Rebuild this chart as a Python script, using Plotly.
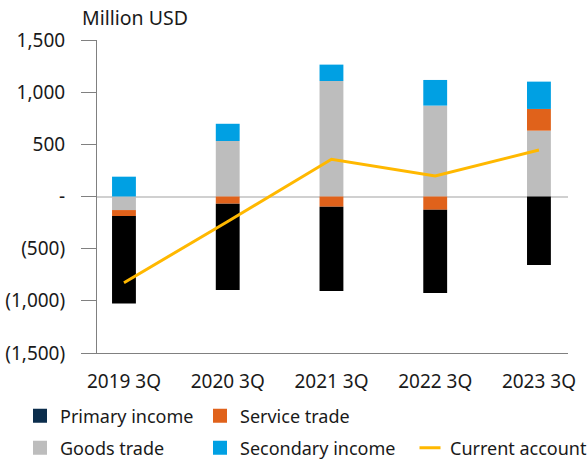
import plotly.graph_objects as go

# Current account components by quarter (million USD)
quarters = ["2019 3Q", "2020 3Q", "2021 3Q", "2022 3Q", "2023 3Q"]
goods_trade = [-130, 532, 1107, 871, 631]
service_trade = [-58, -69, -98, -127, 208]
primary_income = [-837, -827, -808, -798, -657]
secondary_income = [190, 165, 157, 246, 262]
current_account = [-826, -240, 357, 197, 446]

y_ticks = [-1500, -1000, -500, 0, 500, 1000, 1500]
y_tick_text = ["(1,500)", "(1,000)", "(500)", "-", "500", "1,000", "1,500"]

FONT = "Noto Sans"
TXT = "#1a1a1a"
C_GOODS = "#BDBDBD"
C_SERVICE = "#E0621B"
C_PRIMARY = "#000000"
C_PRIMARY_KEY = "#0B2D4C"
C_SECOND = "#00A0E3"
C_CA = "#FFB800"
BAR_W = 0.23

fig = go.Figure()

fig.add_trace(go.Bar(x=quarters, y=goods_trade, name="Goods trade", width=BAR_W,
                     marker=dict(color=C_GOODS, line=dict(width=0)), showlegend=False))
fig.add_trace(go.Bar(x=quarters, y=service_trade, name="Service trade", width=BAR_W,
                     marker=dict(color=C_SERVICE, line=dict(width=0)), showlegend=False))
fig.add_trace(go.Bar(x=quarters, y=primary_income, name="Primary income", width=BAR_W,
                     marker=dict(color=C_PRIMARY, line=dict(width=0)), showlegend=False))
fig.add_trace(go.Bar(x=quarters, y=secondary_income, name="Secondary income", width=BAR_W,
                     marker=dict(color=C_SECOND, line=dict(width=0)), showlegend=False))
fig.add_trace(go.Scatter(x=quarters, y=current_account, name="Current account", mode="lines",
                         line=dict(color=C_CA, width=3), showlegend=False))


# legend keys, one small legend per entry so the two rows line up in columns
def square_key(name, color, legend_id):
    return go.Scatter(x=[None], y=[None], name=name, mode="markers",
                      marker=dict(symbol="square", size=14, color=color, line=dict(width=0)),
                      legend=legend_id)


fig.add_trace(square_key("Primary income", C_PRIMARY_KEY, "legend"))
fig.add_trace(square_key("Service trade", C_SERVICE, "legend2"))
fig.add_trace(square_key("Goods trade", C_GOODS, "legend3"))
fig.add_trace(square_key("Secondary income", C_SECOND, "legend4"))
fig.add_trace(go.Scatter(x=[None], y=[None], name="Current account", mode="markers",
                         marker=dict(symbol="line-ew-open", size=15, color=C_CA,
                                     line=dict(color=C_CA, width=3)),
                         legend="legend5"))

L, R, T, B = 97, 20, 40, 108
W, H = 588, 461
pw, ph = W - L - R, H - T - B


def px_x(x):
    return (x - L) / pw


def px_y(y):
    return 1 - (y - T) / ph


def legend_at(x, y):
    return dict(x=px_x(x), y=px_y(y), xanchor="left", yanchor="middle",
                orientation="h", bgcolor="rgba(0,0,0,0)", borderwidth=0,
                font=dict(family=FONT, size=18, color=TXT))


fig.update_layout(
    width=W, height=H,
    margin=dict(l=L, r=R, t=T, b=B, autoexpand=False),
    paper_bgcolor="white", plot_bgcolor="white",
    barmode="relative",
    font=dict(family=FONT, size=19, color=TXT),
    legend=legend_at(20, 416),
    legend2=legend_at(200, 416),
    legend3=legend_at(20, 448),
    legend4=legend_at(200, 448),
    legend5=legend_at(410, 448),
    xaxis=dict(type="category", range=[-0.26, 4.28], showline=True, linecolor="#808080",
               linewidth=1, ticks="", showgrid=False, ticklabelstandoff=11,
               tickfont=dict(family=FONT, size=19, color=TXT)),
    yaxis=dict(range=[-1500, 1500], tickvals=y_ticks, ticktext=y_tick_text,
               showline=True, linecolor="#808080", linewidth=1,
               ticks="outside", ticklen=15, tickcolor="#808080", tickwidth=1,
               showgrid=False, zeroline=True, zerolinecolor="#D0D0D0", zerolinewidth=1.5,
               ticklabelstandoff=12,
               tickfont=dict(family=FONT, size=19, color=TXT)),
    annotations=[dict(text="Million USD", xref="paper", yref="paper",
                      x=px_x(80), y=px_y(18), xanchor="left", yanchor="middle",
                      showarrow=False, font=dict(family=FONT, size=19.5, color=TXT))],
)

fig.write_html("out.html")
